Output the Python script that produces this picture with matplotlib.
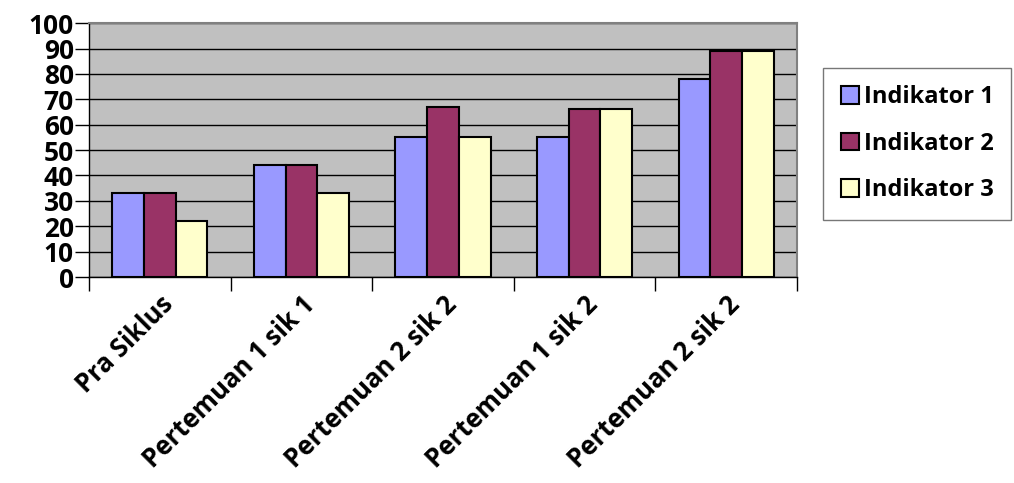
import matplotlib as mpl
mpl.use('Agg')
import matplotlib.pyplot as plt
import numpy as np

# Data
categories = ["Pra Siklus", "Pertemuan 1 sik 1", "Pertemuan 2 sik 2",
              "Pertemuan 1 sik 2", "Pertemuan 2 sik 2"]
indikator_1 = [33, 44, 55, 55, 78]
indikator_2 = [33, 44, 67, 66, 89]
indikator_3 = [22, 33, 55, 66, 89]
series_names = ["Indikator 1", "Indikator 2", "Indikator 3"]
y_ticks = list(range(0, 101, 10))

colors = ["#9999FF", "#993366", "#FFFFCC"]

plt.rcParams['font.family'] = ['Open Sans', 'DejaVu Sans']
plt.rcParams['font.weight'] = 'bold'

fig = plt.figure(figsize=(10.14, 4.83), dpi=100)
ax = fig.add_axes([0.0878, 0.4265, 0.6982, 0.5255])
ax.set_facecolor("#C0C0C0")

x = np.arange(len(categories))
bar_w = 0.224
for i, (vals, name) in enumerate(zip([indikator_1, indikator_2, indikator_3], series_names)):
    ax.bar(x + (i - 1) * bar_w, vals, width=bar_w, color=colors[i],
           edgecolor="black", linewidth=1.5, label=name, zorder=3)

ax.set_xlim(-0.5, len(categories) - 0.5)
ax.set_ylim(0, 100)
ax.set_yticks(y_ticks)
ax.set_yticklabels([str(t) for t in y_ticks], fontsize=19, fontweight='bold')
ax.yaxis.grid(True, color="black", linewidth=1, zorder=1)
ax.set_axisbelow(True)

# category boundaries as ticks, labels at centers
ax.set_xticks(np.arange(-0.5, len(categories)), minor=False)
ax.set_xticklabels([])
ax.set_xticks(x, minor=True)
ax.set_xticklabels(categories, minor=True, rotation=45, ha='right',
                   rotation_mode='anchor', fontsize=18.5, fontweight='bold')
ax.tick_params(axis='x', which='minor', length=0, pad=10)
ax.tick_params(axis='x', which='major', length=10, width=1, direction='out')
ax.tick_params(axis='y', length=10, width=1, direction='out', pad=1)

for side in ['top', 'right']:
    ax.spines[side].set_color("#808080")
    ax.spines[side].set_linewidth(1.5)
for side in ['left', 'bottom']:
    ax.spines[side].set_color("black")
    ax.spines[side].set_linewidth(1)

leg = fig.legend(loc='upper left', bbox_to_anchor=(0.812, 0.86), borderaxespad=0,
                 frameon=True, fancybox=False, handlelength=0.75, handleheight=0.75,
                 handletextpad=0.2, labelspacing=0.95, borderpad=0.75,
                 prop={'size': 17, 'weight': 'bold'})
leg.get_frame().set_edgecolor("#555555")
leg.get_frame().set_linewidth(1)

fig.savefig("out.png", dpi=100)
